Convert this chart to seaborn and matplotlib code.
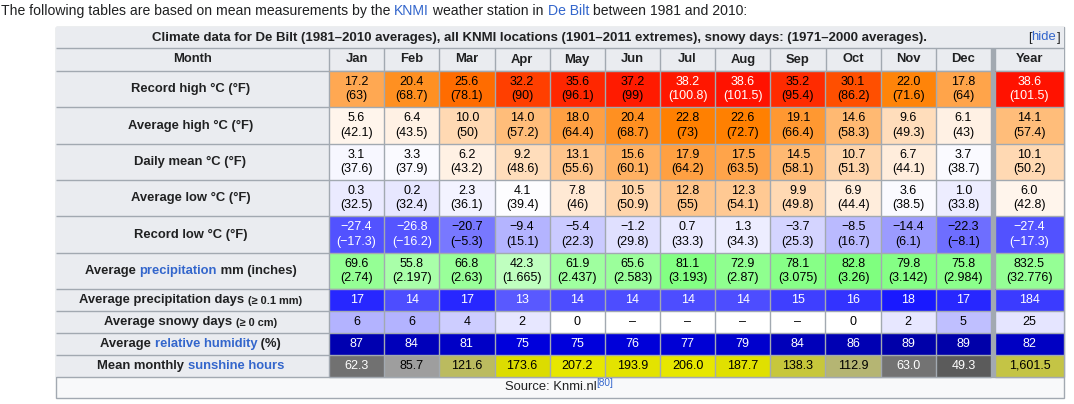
import matplotlib
matplotlib.use('Agg')
import matplotlib.pyplot as plt
from matplotlib.colors import LinearSegmentedColormap, Normalize
from matplotlib.patches import Rectangle
import numpy as np
import seaborn as sns

plt.rcParams['font.family'] = ['Liberation Sans', 'DejaVu Sans']

months = ['Jan', 'Feb', 'Mar', 'Apr', 'May', 'Jun', 'Jul', 'Aug', 'Sep', 'Oct', 'Nov', 'Dec']

record_high_c = [17.2, 20.4, 25.6, 32.2, 35.6, 37.2, 38.2, 38.6, 35.2, 30.1, 22.0, 17.8]
record_high_f = [63, 68.7, 78.1, 90, 96.1, 99, 100.8, 101.5, 95.4, 86.2, 71.6, 64]
avg_high_c = [5.6, 6.4, 10.0, 14.0, 18.0, 20.4, 22.8, 22.6, 19.1, 14.6, 9.6, 6.1]
avg_high_f = [42.1, 43.5, 50, 57.2, 64.4, 68.7, 73, 72.7, 66.4, 58.3, 49.3, 43]
daily_mean_c = [3.1, 3.3, 6.2, 9.2, 13.1, 15.6, 17.9, 17.5, 14.5, 10.7, 6.7, 3.7]
daily_mean_f = [37.6, 37.9, 43.2, 48.6, 55.6, 60.1, 64.2, 63.5, 58.1, 51.3, 44.1, 38.7]
avg_low_c = [0.3, 0.2, 2.3, 4.1, 7.8, 10.5, 12.8, 12.3, 9.9, 6.9, 3.6, 1.0]
avg_low_f = [32.5, 32.4, 36.1, 39.4, 46, 50.9, 55, 54.1, 49.8, 44.4, 38.5, 33.8]
record_low_c = [-27.4, -26.8, -20.7, -9.4, -5.4, -1.2, 0.7, 1.3, -3.7, -8.5, -14.4, -22.3]
record_low_f = [-17.3, -16.2, -5.3, 15.1, 22.3, 29.8, 33.3, 34.3, 25.3, 16.7, 6.1, -8.1]
precip_mm = [69.6, 55.8, 66.8, 42.3, 61.9, 65.6, 81.1, 72.9, 78.1, 82.8, 79.8, 75.8]
precip_in = [2.74, 2.197, 2.63, 1.665, 2.437, 2.583, 3.193, 2.87, 3.075, 3.26, 3.142, 2.984]
precip_days = [17, 14, 17, 13, 14, 14, 14, 14, 15, 16, 18, 17]
snow_days = [6, 6, 4, 2, 0, np.nan, np.nan, np.nan, np.nan, 0, 2, 5]
humidity = [87, 84, 81, 75, 75, 76, 77, 79, 84, 86, 89, 89]
sunshine = [62.3, 85.7, 121.6, 173.6, 207.2, 193.9, 206.0, 187.7, 138.3, 112.9, 63.0, 49.3]

# yearly column
year_temp_c = [38.6, 14.1, 10.1, 6.0, -27.4]
year_temp_f = [101.5, 57.4, 50.2, 42.8, -17.3]
year_precip_mm = 832.5
year_precip_in = 32.776
year_precip_days = 184
year_snow_days = 25
year_humidity = 82
year_sunshine = 1601.5

# colour scales (weather box style)
temp_cmap = LinearSegmentedColormap.from_list('temp', [
    (0.0, (0, 0, 0)), ((-42.75 + 90) / 150, (0, 0, 1)), ((4.5 + 90) / 150, (1, 1, 1)),
    ((23 + 90) / 150, (1, 0.5, 0)), ((41.5 + 90) / 150, (1, 0, 0)), (1.0, (0, 0, 0))])
temp_range = (-90, 60)
precip_cmap = LinearSegmentedColormap.from_list('precip', [(0, 'white'), (0.5, (0, 1, 0)), (1, (0, 0.5, 0))])
precip_range = (0, 330)
days_cmap = LinearSegmentedColormap.from_list('days', [(0, 'white'), (0.5, (0, 0, 1)), (1, (0, 0, 0.5))])
days_range = (0, 40)
humid_cmap = LinearSegmentedColormap.from_list('humid', [(0, 'white'), (0.66, (0, 0, 1)), (1, (0, 0, 0.5))])
humid_range = (0, 100)
sun_cmap = LinearSegmentedColormap.from_list('sun', [
    (0, (0, 0, 0)), (90 / 280, (0.65, 0.65, 0.65)), (165 / 280, (0.85, 0.85, 0)), (1, (1, 1, 0))])
sun_range = (0, 280)

BORDER = '#a2a9b1'
HEAD = '#eaecf0'
LINK = '#3366cc'
INK = '#202122'

W, H = 1074, 404
TL, TR = 56, 1064
TOP, TITLE_B, MONTH_B, TALL_B, SHORT_B, BOTTOM = 27, 48, 71, 289, 377, 398
LAB_R, DEC_R, YEAR_L = 329, 991, 995

fig = plt.figure(figsize=(W / 100, H / 100), dpi=100)
fig.patch.set_facecolor('white')
bg = fig.add_axes([0, 0, 1, 1])
bg.set_xlim(0, W)
bg.set_ylim(H, 0)
bg.axis('off')
renderer = fig.canvas.get_renderer()


def px(size):
    return size * 0.72


def advance(s, size, weight):
    t = bg.text(0, 0, s + '|', fontsize=px(size), fontweight=weight)
    w1 = t.get_window_extent(renderer).width
    t.set_text('|')
    w2 = t.get_window_extent(renderer).width
    t.remove()
    return w1 - w2


def draw_runs(runs, x, y, align='center', weight='normal'):
    widths = [advance(s, size, weight) for s, c, size, dy in runs]
    total = sum(widths)
    start = {'center': x - total / 2, 'right': x - total, 'left': x}[align]
    for (s, c, size, dy), w in zip(runs, widths):
        bg.text(start, y + dy, s, color=c, fontsize=px(size), fontweight=weight,
                ha='left', va='center')
        start += w


# intro sentence
draw_runs([('The following tables are based on mean measurements by the ', INK, 14, 0),
           ('KNMI', LINK, 14, 0), (' weather station in ', INK, 14, 0),
           ('De Bilt', LINK, 14, 0), (' between 1981 and 2010:', INK, 14, 0)],
          1, 11, align='left')

# table frame
bg.add_patch(Rectangle((TL, TOP), TR - TL, BOTTOM - TOP, facecolor='#f8f9fa', edgecolor=BORDER, lw=1))
bg.add_patch(Rectangle((TL, TOP), TR - TL, MONTH_B - TOP, facecolor=HEAD, edgecolor='none'))
bg.add_patch(Rectangle((TL, MONTH_B), LAB_R - TL, SHORT_B - MONTH_B, facecolor=HEAD, edgecolor='none'))

tall_h = (TALL_B - MONTH_B) / 6
short_h = (SHORT_B - TALL_B) / 4
row_edges = list(MONTH_B + tall_h * np.arange(7)) + list(TALL_B + short_h * np.arange(1, 5))
bg.hlines([TITLE_B] + row_edges, TL, TR, colors=BORDER, lw=1)
col_edges = np.linspace(LAB_R, DEC_R, 13)
bg.vlines(col_edges, TITLE_B, MONTH_B, colors=BORDER, lw=1)
bg.vlines([YEAR_L], TITLE_B, MONTH_B, colors=BORDER, lw=1)
bg.add_patch(Rectangle((DEC_R, TITLE_B), YEAR_L - DEC_R, SHORT_B - TITLE_B, facecolor=BORDER, edgecolor='none', zorder=5))

# title row
bg.text(540, (TOP + TITLE_B) / 2, 'Climate data for De Bilt (1981–2010 averages), all KNMI locations '
        '(1901–2011 extremes), snowy days: (1971–2000 averages).',
        ha='center', va='center', fontsize=px(13.2), fontweight='bold', color=INK)
draw_runs([('[', INK, 13, 0), ('hide', LINK, 13, 0), (']', INK, 13, 0)], 1060, (TOP + TITLE_B) / 2, align='right')

# month header
mid_y = (TITLE_B + MONTH_B) / 2
bg.text((TL + LAB_R) / 2, mid_y, 'Month', ha='center', va='center', fontsize=px(13), fontweight='bold', color=INK)
for m, x in zip(months, (col_edges[:-1] + col_edges[1:]) / 2):
    bg.text(x, mid_y, m, ha='center', va='center', fontsize=px(13), fontweight='bold', color=INK)
bg.text((YEAR_L + TR) / 2, mid_y, 'Year', ha='center', va='center', fontsize=px(13), fontweight='bold', color=INK)

# row labels
labels = [
    [('Record high °C (°F)', INK, 13, 0)],
    [('Average high °C (°F)', INK, 13, 0)],
    [('Daily mean °C (°F)', INK, 13, 0)],
    [('Average low °C (°F)', INK, 13, 0)],
    [('Record low °C (°F)', INK, 13, 0)],
    [('Average ', INK, 13, 0), ('precipitation', LINK, 13, 0), (' mm (inches)', INK, 13, 0)],
    [('Average precipitation days ', INK, 13, 0), ('(≥ 0.1 mm)', INK, 11, 1)],
    [('Average snowy days ', INK, 13, 0), ('(≥ 0 cm)', INK, 11, 1)],
    [('Average ', INK, 13, 0), ('relative humidity', LINK, 13, 0), (' (%)', INK, 13, 0)],
    [('Mean monthly ', INK, 13, 0), ('sunshine hours', LINK, 13, 0)],
]
for runs, y0, y1 in zip(labels, row_edges[:-1], row_edges[1:]):
    draw_runs(runs, (TL + LAB_R) / 2 - 2, (y0 + y1) / 2, weight='bold')

# source row
draw_runs([('Source: Knmi.nl', INK, 13, 0), ('[80]', LINK, 10, -4)], 559, (SHORT_B + BOTTOM) / 2)


def px_axes(x0, y0, x1, y1):
    ax = fig.add_axes([x0 / W, 1 - y1 / H, (x1 - x0) / W, (y1 - y0) / H])
    ax.set_facecolor('white')
    return ax


def paint(ax, grid_rows, nrows, start, cmap, vrange):
    grid = np.full((nrows, len(grid_rows[0])), np.nan)
    grid[start:start + len(grid_rows)] = grid_rows
    sns.heatmap(grid, ax=ax, cmap=cmap, vmin=vrange[0], vmax=vrange[1], cbar=False,
                xticklabels=False, yticklabels=False)


def cell_text(ax, i, j, s, color):
    ax.text(j + 0.5, i + 0.5, s, ha='center', va='center', fontsize=px(12.5),
            color=color, linespacing=1.25)


def fmt_c(v):
    return f'{v:.1f}'.replace('-', '−')


def fmt_f(v):
    return f'{v:g}'.replace('-', '−')


def text_color(cmap, vrange, v):
    r, g, b, _ = cmap(Normalize(*vrange)(v))
    return 'white' if 0.299 * r + 0.587 * g + 0.114 * b < 0.5 else 'black'


def temp_color(v):
    return 'white' if v >= 38 or v <= -23 else 'black'


def grid_lines(ax, nrows, ncols):
    ax.hlines(np.arange(nrows + 1), 0, ncols, colors=BORDER, lw=1, clip_on=False)
    ax.vlines(np.arange(ncols + 1), 0, nrows, colors=BORDER, lw=1, clip_on=False)


temp_c = [record_high_c, avg_high_c, daily_mean_c, avg_low_c, record_low_c]
temp_f = [record_high_f, avg_high_f, daily_mean_f, avg_low_f, record_low_f]

# monthly cells, tall rows
ax_t = px_axes(LAB_R, MONTH_B, DEC_R, TALL_B)
paint(ax_t, temp_c, 6, 0, temp_cmap, temp_range)
paint(ax_t, [precip_mm], 6, 5, precip_cmap, precip_range)
for i, (cs, fs) in enumerate(zip(temp_c, temp_f)):
    for j, (c, f) in enumerate(zip(cs, fs)):
        cell_text(ax_t, i, j, f'{fmt_c(c)}\n({fmt_f(f)})', temp_color(c))
for j, (mm, inch) in enumerate(zip(precip_mm, precip_in)):
    cell_text(ax_t, 5, j, f'{mm:.1f}\n({inch:g})', text_color(precip_cmap, precip_range, mm))
grid_lines(ax_t, 6, 12)

# monthly cells, short rows
ax_s = px_axes(LAB_R, TALL_B, DEC_R, SHORT_B)
paint(ax_s, [precip_days, snow_days], 4, 0, days_cmap, days_range)
paint(ax_s, [humidity], 4, 2, humid_cmap, humid_range)
paint(ax_s, [sunshine], 4, 3, sun_cmap, sun_range)
for j in range(12):
    cell_text(ax_s, 0, j, f'{precip_days[j]}', text_color(days_cmap, days_range, precip_days[j]))
    sd = snow_days[j]
    cell_text(ax_s, 1, j, '–' if np.isnan(sd) else f'{sd:.0f}',
              'black' if np.isnan(sd) else text_color(days_cmap, days_range, sd))
    cell_text(ax_s, 2, j, f'{humidity[j]}', text_color(humid_cmap, humid_range, humidity[j]))
    cell_text(ax_s, 3, j, f'{sunshine[j]:.1f}', text_color(sun_cmap, sun_range, sunshine[j]))
grid_lines(ax_s, 4, 12)

# yearly column (totals coloured on a per-month basis)
ax_yt = px_axes(YEAR_L, MONTH_B, TR, TALL_B)
paint(ax_yt, [[v] for v in year_temp_c], 6, 0, temp_cmap, temp_range)
paint(ax_yt, [[year_precip_mm]], 6, 5, precip_cmap, (0, precip_range[1] * 12))
for i, (c, f) in enumerate(zip(year_temp_c, year_temp_f)):
    cell_text(ax_yt, i, 0, f'{fmt_c(c)}\n({fmt_f(f)})', temp_color(c))
cell_text(ax_yt, 5, 0, f'{year_precip_mm:.1f}\n({year_precip_in:g})', 'black')
grid_lines(ax_yt, 6, 1)

ax_ys = px_axes(YEAR_L, TALL_B, TR, SHORT_B)
paint(ax_ys, [[year_precip_days], [year_snow_days]], 4, 0, days_cmap, (0, days_range[1] * 12))
paint(ax_ys, [[year_humidity]], 4, 2, humid_cmap, humid_range)
paint(ax_ys, [[year_sunshine]], 4, 3, sun_cmap, (0, sun_range[1] * 12))
cell_text(ax_ys, 0, 0, f'{year_precip_days}', text_color(days_cmap, (0, days_range[1] * 12), year_precip_days))
cell_text(ax_ys, 1, 0, f'{year_snow_days}', text_color(days_cmap, (0, days_range[1] * 12), year_snow_days))
cell_text(ax_ys, 2, 0, f'{year_humidity}', text_color(humid_cmap, humid_range, year_humidity))
cell_text(ax_ys, 3, 0, f'{year_sunshine:,.1f}', text_color(sun_cmap, (0, sun_range[1] * 12), year_sunshine))
grid_lines(ax_ys, 4, 1)

fig.savefig('out.png', dpi=100, facecolor='white')
